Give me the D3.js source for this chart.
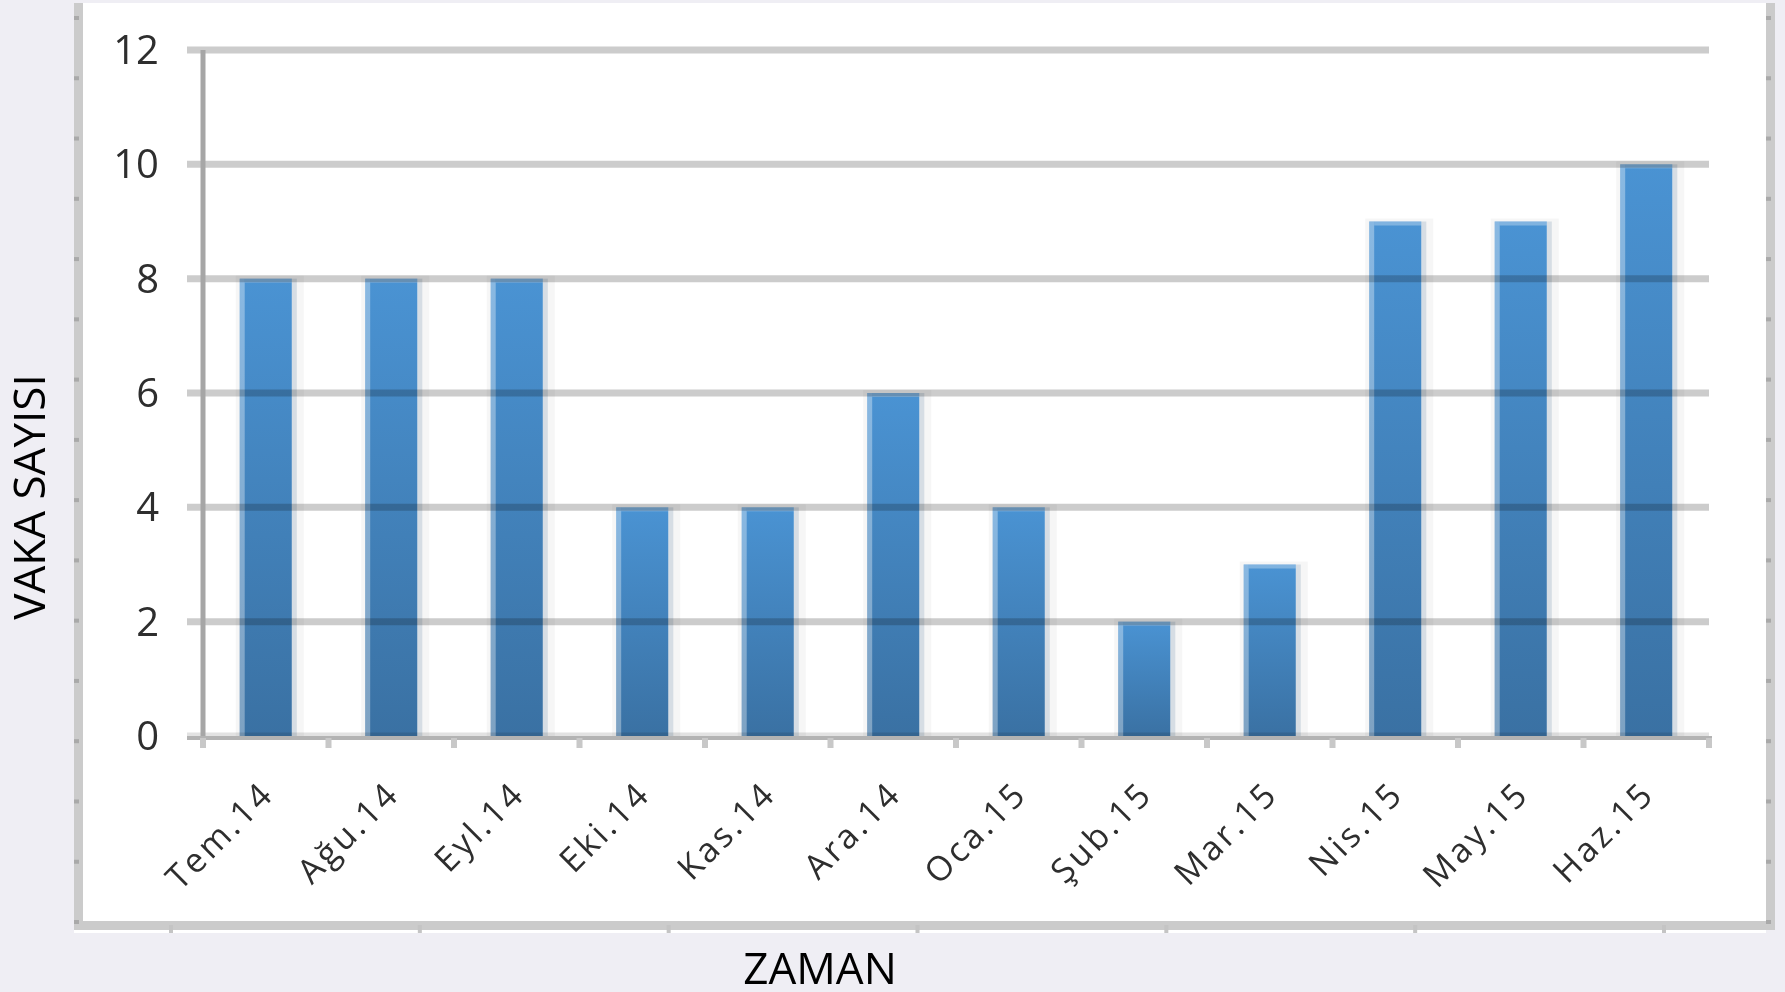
<!DOCTYPE html>
<meta charset="utf-8">
<style>
  html, body { margin: 0; padding: 0; background: #efeef4; }
  svg { display: block; }
  text { font-family: "Open Sans", sans-serif; }
</style>
<body>
<script src="https://d3js.org/d3.v7.min.js"></script>
<script>
// chart data
var months = ["Tem.14", "Ağu.14", "Eyl.14", "Eki.14", "Kas.14", "Ara.14",
              "Oca.15", "Şub.15", "Mar.15", "Nis.15", "May.15", "Haz.15"];
var cases  = [8, 8, 8, 4, 4, 6, 4, 2, 3, 9, 9, 10];
var yTicks = [0, 2, 4, 6, 8, 10, 12];
var yTitle = "VAKA SAYISI",
    xTitle = "ZAMAN";

var width = 1785, height = 992;

// plot area
var plotLeft = 203, plotRight = 1709, plotTop = 50, plotBottom = 736;

var svg = d3.select("body").append("svg")
  .attr("width", width)
  .attr("height", height);

// gradient for bars
var defs = svg.append("defs");
var grad = defs.append("linearGradient")
  .attr("id", "barGrad")
  .attr("x1", 0).attr("y1", 0).attr("x2", 0).attr("y2", 1);
grad.append("stop").attr("offset", "0%").attr("stop-color", "#4a93d3");
grad.append("stop").attr("offset", "100%").attr("stop-color", "#3a71a3");

// white panel with grey frame
var frameColor = "#cbcbcb";
svg.append("rect").attr("x", 83).attr("y", 3).attr("width", 1683).attr("height", 918).attr("fill", "#fff");
svg.append("rect").attr("x", 74).attr("y", 921).attr("width", 1692).attr("height", 12).attr("fill", "#fff");
svg.append("rect").attr("x", 74).attr("y", 3).attr("width", 9).attr("height", 927).attr("fill", frameColor);
svg.append("rect").attr("x", 1766).attr("y", 3).attr("width", 9).attr("height", 927).attr("fill", frameColor);
svg.append("rect").attr("x", 74).attr("y", 921).attr("width", 1701).attr("height", 9).attr("fill", frameColor);

// little ruler marks on the frame
var sideRuler = d3.scaleLinear().domain([0, 15]).range([18, 922]);
var bottomRuler = d3.scaleLinear().domain([0, 6]).range([171, 1664]);
[74, 1766].forEach(function(fx){
  svg.selectAll(null)
    .data(sideRuler.ticks(15))
    .enter().append("rect")
      .attr("x", fx)
      .attr("y", function(d){ return sideRuler(d) - 2; })
      .attr("width", 5).attr("height", 4)
      .attr("fill", "#a9a9a9");
});
svg.selectAll(null)
  .data(bottomRuler.ticks(6))
  .enter().append("rect")
    .attr("x", function(d){ return bottomRuler(d) - 2; })
    .attr("y", 925)
    .attr("width", 4).attr("height", 8)
    .attr("fill", "#c4c4c4");

// scales
var x = d3.scaleBand()
  .domain(months)
  .range([plotLeft, plotRight])
  .paddingInner(0.585)
  .paddingOuter(0.2925);

var y = d3.scaleLinear()
  .domain([0, 12])
  .range([plotBottom, plotTop]);

var data = months.map(function(m, i){ return {month: m, value: cases[i]}; });

// bars
var bars = svg.append("g").selectAll("g")
  .data(data)
  .enter().append("g");

bars.append("rect")
  .attr("x", function(d){ return x(d.month) - 4; })
  .attr("y", function(d){ return y(d.value) - 3; })
  .attr("width", x.bandwidth() + 16)
  .attr("height", function(d){ return y(0) - y(d.value) + 3; })
  .attr("fill", "#000")
  .attr("opacity", 0.035);

bars.append("rect")
  .attr("x", function(d){ return x(d.month) + x.bandwidth(); })
  .attr("y", function(d){ return y(d.value); })
  .attr("width", 5)
  .attr("height", function(d){ return y(0) - y(d.value); })
  .attr("fill", "#d6dde4");

bars.append("rect")
  .attr("x", function(d){ return x(d.month); })
  .attr("y", function(d){ return y(d.value); })
  .attr("width", x.bandwidth())
  .attr("height", function(d){ return y(0) - y(d.value); })
  .attr("fill", "url(#barGrad)");

bars.append("rect")
  .attr("x", function(d){ return x(d.month); })
  .attr("y", function(d){ return y(d.value); })
  .attr("width", 5)
  .attr("height", function(d){ return y(0) - y(d.value); })
  .attr("fill", "#fff")
  .attr("opacity", 0.35);

bars.append("rect")
  .attr("x", function(d){ return x(d.month) + 5; })
  .attr("y", function(d){ return y(d.value); })
  .attr("width", x.bandwidth() - 5)
  .attr("height", 4)
  .attr("fill", "#fff")
  .attr("opacity", 0.3);

// gridlines on top, multiplied: plain grey on white, a darker band across the bars
svg.append("g")
  .style("mix-blend-mode", "multiply")
  .selectAll("line")
  .data(yTicks)
  .enter().append("line")
    .attr("x1", 187).attr("x2", plotRight)
    .attr("y1", function(d){ return y(d); })
    .attr("y2", function(d){ return y(d); })
    .attr("stroke", function(d){ return d === 0 ? "#e2e2e2" : "#cccccc"; })
    .attr("stroke-width", 7);

// y axis line
svg.append("line")
  .attr("x1", plotLeft).attr("x2", plotLeft)
  .attr("y1", plotTop).attr("y2", plotBottom + 3)
  .attr("stroke", "#a6a6a6")
  .attr("stroke-width", 5);

// x axis line
svg.append("line")
  .attr("x1", 187).attr("x2", plotRight + 3)
  .attr("y1", plotBottom + 2).attr("y2", plotBottom + 2)
  .attr("stroke", "#b3b3b3")
  .attr("stroke-width", 4);

// x ticks at category boundaries
var step = x.step();
svg.selectAll(null)
  .data(d3.range(months.length + 1))
  .enter().append("rect")
    .attr("x", function(i){ return plotLeft + i * step - 3; })
    .attr("y", plotBottom + 2)
    .attr("width", 6)
    .attr("height", 10)
    .attr("fill", "#c8c8c8");

// y tick labels
svg.selectAll(null)
  .data(yTicks)
  .enter().append("text")
    .attr("x", 159)
    .attr("y", function(d){ return y(d); })
    .attr("dy", "0.35em")
    .attr("text-anchor", "end")
    .style("font-size", "40px")
    .attr("fill", "#2e2e2e")
    .text(function(d){ return d; });

// x tick labels, rotated
svg.selectAll(null)
  .data(months)
  .enter().append("text")
    .attr("transform", function(d){
      return "translate(" + (x(d) + x.bandwidth() / 2 + 10) + "," + (plotBottom + 60) + ") rotate(-45)";
    })
    .attr("text-anchor", "end")
    .style("font-size", "34px")
    .style("letter-spacing", "3px")
    .attr("fill", "#2e2e2e")
    .text(function(d){ return d; });

// axis titles
svg.append("text")
  .attr("transform", "translate(45,497) rotate(-90)")
  .attr("text-anchor", "middle")
  .style("font-size", "44px")
  .attr("fill", "#000")
  .text(yTitle);

svg.append("text")
  .attr("x", 820)
  .attr("y", 984)
  .attr("text-anchor", "middle")
  .style("font-size", "44px")
  .attr("fill", "#000")
  .text(xTitle);
</script>
</body>
